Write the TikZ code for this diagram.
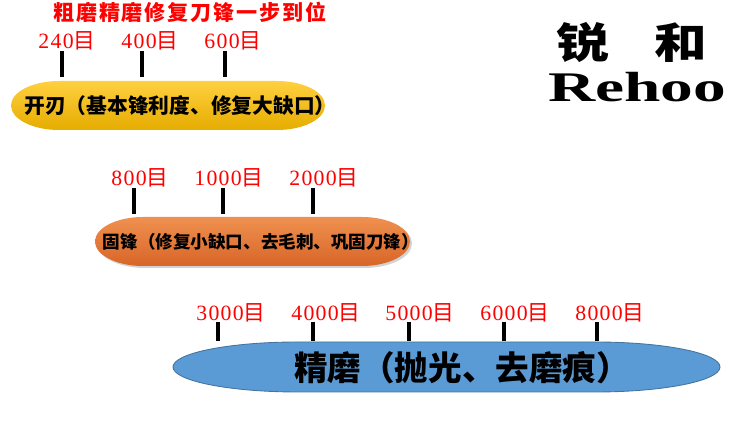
\documentclass[tikz,border=0pt]{standalone}
\usepackage{fontspec}
\usepackage{tikz}
\usetikzlibrary{shadows}
\newfontfamily\cjk{Noto Sans CJK SC}
\newfontfamily\titlefont[LetterSpace=9]{Noto Sans CJK SC}
\newfontfamily\digitfont[LetterSpace=6]{Liberation Serif}
\newfontfamily\logofont{Liberation Serif}
\definecolor{barred}{HTML}{FF0000}
\definecolor{baryellow}{HTML}{FFC000}
\definecolor{barorange}{HTML}{ED7D31}
\definecolor{barblue}{HTML}{5B9BD5}
\newcommand{\pillpath}[5]{% left, right, bottom, top, end radius
  (#1,{(#3+#4)/2}) arc[start angle=180, end angle=90, x radius=#5, y radius={(#4-#3)/2}]
  -- (#2-#5,#4) arc[start angle=90, end angle=-90, x radius=#5, y radius={(#4-#3)/2}]
  -- (#1+#5,#3) arc[start angle=270, end angle=180, x radius=#5, y radius={(#4-#3)/2}] -- cycle}
\tikzset{
  meshlabel/.style={text=barred, font=\digitfont\fontsize{12.4}{13}\selectfont, inner sep=0pt},
  tickline/.style={line width=1.8pt, black},
  bartext/.style={font=\cjk\bfseries\fontsize{#1}{#1}\selectfont, text=black, inner sep=0pt},
  titletext/.style={text=barred, font=\titlefont\bfseries\fontsize{12}{13}\selectfont, inner sep=0pt},
  logotext/.style={font=\cjk\bfseries\fontsize{30}{30}\selectfont, yscale=0.8, inner sep=0pt},
}
\begin{document}
\begin{tikzpicture}[x=0.02cm, y=0.02cm]
  \useasboundingbox (0,0) rectangle (750,431);
  % Coarse stage
  \node[titletext] (title) at (190,419) {粗磨精磨修复刀锋一步到位};
  \shade[top color=baryellow!75!white, middle color=baryellow, bottom color=baryellow!90!black]
    \pillpath{11}{325}{301}{350}{48};
  \node[bartext=11.8] (coarse) at (180,325) {开刃（基本锋利度、修复大缺口）};
  \foreach \id/\txt/\lx/\tx in {a/240/67/62, b/400/150/142, c/600/233/225} {
    \node[meshlabel] (m\id) at (\lx,390) {\txt{\cjk 目}};
    \coordinate (t\id) at (\tx,380);
    \coordinate (u\id) at (\tx,354);
    \draw[tickline] (t\id) -- (u\id);
  }
  % Middle stage
  \fill[black!35, opacity=0.5] \pillpath{97}{412}{163}{212}{48};
  \shade[top color=barorange!85!white, bottom color=barorange!90!red!90!black]
    \pillpath{95}{410}{165}{214}{48};
  \node[bartext=10] (middle) at (261,189) {固锋（修复小缺口、去毛刺、巩固刀锋）};
  \foreach \id/\txt/\lx/\tx in {d/800/140/134, e/1000/229/223, f/2000/324/313} {
    \node[meshlabel] (m\id) at (\lx,253) {\txt{\cjk 目}};
    \coordinate (t\id) at (\tx,243);
    \coordinate (u\id) at (\tx,217);
    \draw[tickline] (t\id) -- (u\id);
  }
  % Fine stage
  \draw[barblue!75!black, fill=barblue, line width=0.5pt] \pillpath{173}{720}{39}{89}{125};
  \node[bartext=19.1] (fine) at (462,63) {精磨（抛光、去磨痕）};
  \foreach \id/\txt/\lx/\tx in {g/3000/231/218, h/4000/326/313, i/5000/420/409, j/6000/515/504, k/8000/610/597} {
    \node[meshlabel] (m\id) at (\lx,118) {\txt{\cjk 目}};
    \coordinate (t\id) at (\tx,109);
    \coordinate (u\id) at (\tx,90);
    \draw[tickline] (t\id) -- (u\id);
  }
  % Logo
  \node[logotext] (logoa) at (583,388) {锐};
  \node[logotext] (logob) at (681,388) {和};
  \node[font=\logofont\bfseries\fontsize{24}{24}\selectfont, xscale=1.55, inner sep=0pt] (logoc) at (637,344) {Rehoo};
\end{tikzpicture}
\end{document}
